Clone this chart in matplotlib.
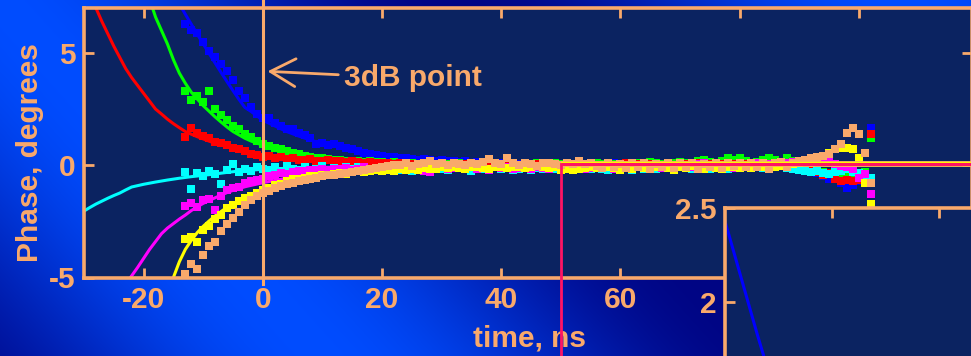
import numpy as np
import matplotlib
matplotlib.use("Agg")
import matplotlib.pyplot as plt

plt.rcParams['font.family'] = ['Liberation Sans', 'DejaVu Sans']
plt.rcParams['font.weight'] = 'bold'
plt.rcParams['axes.unicode_minus'] = False

ORANGE = '#f9a96b'
NAVY = '#0b2361'
PINK = '#ff1464'

# measured phase points, one every ns from -13 to 102 ns
t_pts = np.arange(-13, 103)

blue_pts = [6.3, 6.0, 5.9, 5.5, 5.1, 4.8, 4.5, 4.2, 3.8, 3.3, 3.0, 2.6, 2.3, 2.1,
            2.1, 1.9, 1.75, 1.6, 1.6, 1.45, 1.35, 1.2, 0.95, 1.0, 0.9, 0.95, 0.85, 0.78, 0.7, 0.65, 0.55, 0.5, 0.45, 0.42,
            0.38, 0.35, 0.3, 0.32, 0.28, 0.25, 0.27, 0.22, 0.2, 0.24, 0.18, 0.2, 0.15, 0.17, 0.12, 0.14, 0.1, 0.12, 0.08, 0.1,
            0.06, 0.09, 0.05, 0.08, 0.04, 0.07, 0.05, 0.1, 0.03, 0.06, 0.08, 0.04, 0.07, 0.05, 0.09, 0.03, 0.06, 0.05, 0.08, 0.04,
            0.07, 0.05, 0.1, 0.06, 0.04, 0.08, 0.05, 0.07, 0.03, 0.06, 0.09, 0.05, 0.04, 0.08, 0.06, 0.03, 0.07, 0.05, 0.02, 0.04,
            0.05, 0.03, 0.06, 0.02, 0.04, 0.0, 0.03, -0.02, 0.01, -0.05, -0.1,
            -0.2, -0.35, -0.5, -0.63, -0.55, -0.8, -1.0, -0.9, -0.7, -0.4, 1.65]

red_pts = [1.25, 1.65, 1.45, 1.3, 1.2, 1.05, 0.98, 0.9, 0.78, 0.72, 0.62, 0.52, 0.47, 0.35,
           0.4, 0.32, 0.35, 0.28, 0.3, 0.25, 0.22, 0.26, 0.2, 0.18, 0.22, 0.17, 0.2, 0.15, 0.18, 0.14, 0.12, 0.15, 0.1, 0.12,
           0.1, 0.06, 0.08, 0.03, 0.06, -0.02, 0.05, 0.02, -0.05, 0.03, 0.0, -0.08, 0.02, 0.04, -0.03, 0.01, 0.05, -0.1, 0.0, 0.03,
           -0.02, 0.04, 0.0, -0.12, 0.02, 0.05, -0.04, 0.01, 0.03, -0.06, 0.02, 0.0, 0.04, -0.03, 0.06, 0.01, -0.05, 0.03, 0.0, 0.05,
           0.08, 0.02, 0.06, -0.02, 0.04, 0.07, 0.0, 0.05, 0.03, -0.04, 0.06, 0.02, 0.08, 0.01, 0.04, -0.03, 0.05, 0.02, 0.06, 0.0,
           0.04, 0.02, -0.02, 0.03, 0.0, -0.05, 0.02, -0.08, -0.12, -0.1, -0.2,
           -0.25, -0.3, -0.45, -0.35, -0.6, -0.7, -0.65, -0.72, -0.68, -0.5, 1.38]

green_pts = [3.3, 2.9, 3.1, 2.8, 3.3, 2.5, 2.25, 2.0, 1.75, 1.6, 1.4, 1.25, 1.1, 0.93,
             0.85, 0.76, 0.7, 0.62, 0.55, 0.49, 0.42, 0.38, 0.33, 0.3, 0.27, 0.25, 0.22, 0.2, 0.18, 0.2, 0.15, 0.17, 0.13, 0.15,
             0.12, 0.14, 0.1, 0.08, 0.12, 0.05, 0.1, 0.07, 0.04, 0.09, 0.06, 0.03, 0.08, 0.05, 0.1, 0.02, 0.06, 0.04, 0.07, 0.03,
             0.05, 0.08, 0.02, 0.06, 0.04, 0.09, 0.03, 0.06, 0.1, 0.05, 0.07, 0.04, 0.08, 0.03, 0.06, 0.09, 0.05, 0.12, 0.07, 0.04,
             0.08, 0.12, 0.1, 0.05, 0.14, 0.1, 0.06, 0.12, 0.08, 0.15, 0.1, 0.12, 0.18, 0.25, 0.15, 0.12, 0.2, 0.32, 0.22, 0.3,
             0.18, 0.12, 0.15, 0.22, 0.32, 0.25, 0.15, 0.3, 0.2, 0.05, -0.1,
             -0.2, -0.25, -0.3, -0.38, -0.35, -0.42, -0.4, -0.55, -0.45, -0.3, 1.2]

cyan_pts = [-0.3, -1.05, -0.35, -0.5, -0.25, -0.4, -0.85, -0.2, 0.05, -0.3, -0.15, -0.25, -0.1, -0.15,
            -0.2, -0.1, -0.25, -0.05, -0.15, -0.2, -0.1, -0.3, -0.15, -0.05, -0.2, -0.12, -0.25, -0.08, -0.18, -0.1, -0.22, -0.15, -0.12, -0.2,
            -0.18, -0.12, -0.2, -0.15, -0.25, -0.1, -0.18, -0.22, -0.12, -0.16, -0.2, -0.14, -0.1, -0.18, -0.24, -0.12, -0.15, -0.2, -0.1, -0.16,
            -0.13, -0.2, -0.15, -0.1, -0.22, -0.14, -0.18, -0.1, -0.15, -0.2, -0.12, -0.17, -0.1, -0.14, -0.19, -0.12, -0.15, -0.22, -0.1, -0.16,
            -0.14, -0.2, -0.1, -0.15, -0.12, -0.18, -0.08, -0.14, -0.2, -0.1, -0.12, -0.16, -0.1, -0.14, -0.18, -0.08, -0.12, -0.15, -0.1, -0.13,
            -0.1, -0.14, -0.08, -0.12, -0.06, -0.1, -0.05, -0.12, -0.15, -0.2, -0.25,
            -0.3, -0.28, -0.35, -0.4, -0.3, -0.25, -0.18, -0.3, -0.35, -0.45, -0.57]

magenta_pts = [-1.8, -1.7, -1.85, -1.55, -1.5, -2.0, -1.35, -1.1, -1.0, -0.95, -0.8, -0.72, -0.65, -0.6,
               -0.5, -0.42, -0.35, -0.38, -0.3, -0.25, -0.28, -0.22, -0.2, -0.18, -0.22, -0.15, -0.18, -0.12, -0.2, -0.15, -0.1, -0.18, -0.13, -0.15,
               -0.15, -0.2, -0.12, -0.18, -0.1, -0.15, -0.25, -0.3, -0.14, -0.1, -0.16, -0.12, -0.08, -0.15, -0.1, -0.18, -0.12, -0.2, -0.1, -0.14,
               -0.1, -0.16, -0.12, -0.08, -0.15, -0.1, -0.13, -0.18, -0.1, -0.12, -0.08, -0.14, -0.1, -0.16, -0.12, -0.08, -0.12, -0.1, -0.15, -0.1,
               -0.12, -0.08, -0.1, -0.14, -0.06, -0.1, -0.12, -0.08, -0.1, -0.05, -0.12, -0.08, 0.05, 0.1, 0.02, -0.08, -0.1, -0.05, -0.12, -0.08,
               -0.06, -0.1, 0.08, 0.12, 0.05, -0.05, 0.02, 0.1, 0.15, 0.2, 0.15,
               0.3, 0.35, 0.25, 0.15, 0.05, -0.05, -0.1, -0.18, -0.58, -0.4, -1.27]

yellow_pts = [-3.3, -3.2, -3.4, -2.9, -2.7, -2.4, -2.2, -1.9, -1.75, -1.6, -1.45, -1.35, -1.25, -1.1,
              -1.0, -0.9, -0.85, -0.7, -0.6, -0.62, -0.55, -0.5, -0.48, -0.42, -0.45, -0.38, -0.35, -0.4, -0.3, -0.28, -0.32, -0.25, -0.22, -0.25,
              -0.2, -0.28, -0.18, -0.22, -0.15, -0.2, -0.12, -0.18, -0.15, -0.1, -0.14, -0.08, -0.12, -0.16, -0.1, -0.06, -0.12, -0.15, -0.08, -0.1,
              -0.12, -0.07, -0.1, -0.14, -0.08, -0.05, -0.1, -0.12, -0.06, -0.2, -0.15, -0.22, -0.18, -0.12, -0.08, -0.14, -0.1, -0.06, -0.12, -0.2,
              -0.1, -0.15, -0.08, -0.12, -0.18, -0.06, -0.1, -0.14, -0.2, -0.08, -0.12, -0.05, -0.1, -0.15, -0.08, -0.12, -0.18, -0.06, -0.1, -0.14,
              -0.08, -0.12, -0.05, -0.1, -0.15, -0.08, -0.04, -0.1, 0.05, 0.12, 0.2,
              0.25, 0.3, 0.4, 0.55, 0.72, 0.78, 0.76, 0.7, 0.3, -0.8, -1.73]

orange_pts = [-4.85, -4.4, -4.6, -4.0, -3.6, -3.4, -2.95, -2.6, -2.35, -2.1, -1.75, -1.55, -1.37, -1.25,
              -1.15, -1.0, -0.93, -0.85, -0.78, -0.7, -0.64, -0.6, -0.55, -0.5, -0.45, -0.42, -0.4, -0.35, -0.3, -0.28, -0.22, -0.18, -0.12, -0.1,
              -0.05, 0.03, 0.0, 0.08, -0.02, 0.05, 0.1, 0.18, 0.04, 0.08, 0.02, 0.1, 0.05, 0.0, 0.12, 0.06, 0.15, 0.27, 0.1, 0.05,
              0.33, 0.08, 0.02, 0.1, 0.05, -0.02, 0.08, 0.12, 0.04, 0.0, 0.1, 0.06, 0.2, 0.05, 0.08, -0.05, -0.12, 0.1, -0.1, 0.05,
              -0.12, 0.08, -0.08, 0.1, -0.15, 0.05, -0.1, 0.08, -0.12, 0.1, -0.08, 0.12, -0.15, 0.05, -0.1, 0.1, -0.12, 0.08, -0.05, 0.1,
              -0.1, 0.12, -0.08, 0.1, -0.15, 0.08, 0.15, -0.1, 0.12, 0.2, 0.22,
              0.3, 0.35, 0.4, 0.48, 0.7, 0.93, 1.42, 1.65, 1.37, 0.53, -0.8]

# fitted curves
red_fit_t = [-30, -29, -28, -27, -26, -25, -24, -23, -22, -21, -20, -19, -18, -17, -16, -15, -14, -13, -12, -11,
             -10, -9, -8, -7, -6, -5, -4, -3, -2, -1, 0, 2, 4, 6, 8, 10, 14, 20, 30, 45, 60]
red_fit = [8.3, 7.6, 7.0, 6.4, 5.85, 5.3, 4.8, 4.3, 3.9, 3.55, 3.2, 2.85, 2.5, 2.28, 2.05, 1.85, 1.67, 1.5, 1.38, 1.27,
           1.17, 1.07, 0.98, 0.9, 0.82, 0.75, 0.66, 0.58, 0.51, 0.45, 0.4, 0.33, 0.28, 0.24, 0.2, 0.18, 0.14, 0.1, 0.06, 0.04, 0.03]

green_fit_t = [-20, -19, -18.5, -18, -17, -16, -15, -14, -13, -12, -11, -10, -9, -8, -7, -6, -5, -4, -3, -2, -1, 0,
               2, 4, 6, 8, 10, 14, 20, 30, 45, 60]
green_fit = [8.2, 7.4, 7.0, 6.6, 6.0, 5.4, 4.7, 4.1, 3.65, 3.25, 2.95, 2.65, 2.4, 2.15, 1.92, 1.7, 1.5, 1.35, 1.2, 1.08, 0.98, 0.9,
             0.72, 0.58, 0.46, 0.37, 0.3, 0.2, 0.13, 0.07, 0.04, 0.02]

blue_fit_t = [-14.5, -13.6, -13, -12, -11, -10, -9, -8, -7, -6, -5, -4, -3, -2, -1, 0, 2, 4, 6, 8, 10, 13, 16, 20, 25, 30, 40, 60]
blue_fit = [7.4, 7.0, 6.72, 6.28, 5.84, 5.4, 4.97, 4.55, 4.13, 3.72, 3.32, 2.93, 2.57, 2.4, 2.2, 2.0, 1.75, 1.5, 1.3, 1.12,
            0.97, 0.8, 0.64, 0.45, 0.3, 0.2, 0.1, 0.04]

cyan_fit_t = [-30, -29, -28, -27, -26, -25, -24, -23, -22, -20, -18, -16, -14, -12, -10, -8, -6, -4, -2, 0, 5, 10, 20, 40, 60]
cyan_fit = [-2.04, -1.88, -1.73, -1.6, -1.47, -1.35, -1.24, -1.1, -0.97, -0.85, -0.75, -0.66, -0.58, -0.51, -0.45, -0.39,
            -0.32, -0.26, -0.22, -0.18, -0.13, -0.1, -0.06, -0.04, -0.03]

magenta_fit_t = [-23.5, -22.2, -21, -20, -19, -18, -17, -16, -15, -14, -13, -12, -11, -10, -9, -8, -7, -6, -5, -4, -3, -2, -1, 0,
                 2, 4, 6, 8, 10, 14, 20, 30, 45, 60]
magenta_fit = [-5.6, -5.0, -4.55, -4.15, -3.75, -3.4, -3.05, -2.8, -2.6, -2.4, -2.22, -2.02, -1.85, -1.7, -1.57, -1.45, -1.33,
               -1.22, -1.12, -1.04, -0.96, -0.9, -0.84, -0.78, -0.68, -0.58, -0.5, -0.43, -0.37, -0.28, -0.19, -0.11, -0.06, -0.04]

yellow_fit_t = [-16, -15, -14, -13, -12, -11, -10, -9, -8, -7, -6, -5, -4, -3, -2, -1, 0, 2, 4, 6, 8, 10, 14, 20, 30, 45, 60]
yellow_fit = [-5.65, -5.0, -4.3, -3.75, -3.35, -3.0, -2.72, -2.48, -2.26, -2.06, -1.88, -1.72, -1.58, -1.45, -1.34, -1.24,
              -1.14, -0.97, -0.82, -0.68, -0.57, -0.48, -0.35, -0.22, -0.12, -0.07, -0.05]

# inset trace
inset_t = [50, 51, 52, 53, 54, 55, 56]
inset_phase = [2.43, 2.23, 2.03, 1.83, 1.64, 1.47, 1.32]

W, H = 971, 356
fig = plt.figure(figsize=(W / 100, H / 100), dpi=100)

# slide background gradient
bg = fig.add_axes([0, 0, 1, 1], zorder=0)
X, Y = np.meshgrid(np.arange(W), np.arange(H))
b = 0.5 + 0.5 * np.cos(2 * np.pi * (X - 0.9 * Y) / 900)
dark = np.array([0.0, 0.02, 0.52])
bright = np.array([0.0, 0.30, 1.0])
img = dark[None, None, :] + b[:, :, None] * (bright - dark)[None, None, :]
bg.imshow(img, aspect='auto', extent=[0, 1, 0, 1], origin='upper')
bg.axis('off')

ax = fig.add_axes([84 / W, 1 - 277.5 / H, 888 / W, 269.5 / H], zorder=1)
ax.set_facecolor(NAVY)

fits = [(blue_fit_t, blue_fit, 'blue'), (green_fit_t, green_fit, '#00ff00'), (red_fit_t, red_fit, 'red'),
        (cyan_fit_t, cyan_fit, 'cyan'), (magenta_fit_t, magenta_fit, 'magenta'), (yellow_fit_t, yellow_fit, 'yellow')]
for ft, fv, c in fits:
    ax.plot(ft, fv, color=c, lw=2.2, zorder=2)

series = [(blue_pts, 'blue'), (green_pts, '#00ff00'), (red_pts, 'red'), (cyan_pts, 'cyan'),
          (magenta_pts, 'magenta'), (yellow_pts, 'yellow'), (orange_pts, ORANGE)]
for vals, c in series:
    ax.plot(t_pts, vals, ls='none', marker='s', ms=5.5, mew=0, color=c, zorder=3)

# 3dB point marker
ax.plot([0, 0], [7.4, -5.28], color=ORANGE, lw=2.2, zorder=4, clip_on=False)
ax.annotate('3dB point', xy=(0.8, 4.18), xytext=(13.6, 3.87), color=ORANGE, fontsize=21.5,
            fontweight='bold', va='center', ha='left', zorder=5,
            arrowprops=dict(arrowstyle='->,head_length=0.9,head_width=0.5', color=ORANGE, lw=2,
                            shrinkA=2, shrinkB=0, mutation_scale=20))

# zoom bracket
ax.plot([50, 125], [0.04, 0.04], color=ORANGE, lw=4.2, zorder=6, clip_on=False, solid_capstyle='butt')
ax.plot([50, 125], [0.04, 0.04], color='yellow', lw=3.2, zorder=6, clip_on=False, solid_capstyle='butt')
ax.plot([50, 125], [0.04, 0.04], color=PINK, lw=2.2, zorder=6, clip_on=False, solid_capstyle='butt')
ax.plot([50, 50], [0.04, -9.5], color=PINK, lw=2, zorder=6, clip_on=False)

ax.set_xlim(-30, 119)
ax.set_ylim(-5, 7)
ax.set_xticks([-20, 0, 20, 40, 60, 80, 100])
ax.set_yticks([-5, 0, 5])
ax.tick_params(direction='in', length=7, width=2, colors=ORANGE, labelsize=21.5,
               top=True, right=True, pad=6)
for s in ax.spines.values():
    s.set_color(ORANGE)
    s.set_linewidth(2.6)

ax.set_xlabel('time, ns', color=ORANGE, fontsize=21.5, fontweight='bold')
ax.xaxis.set_label_coords(0.502, -0.175)
ax.set_ylabel('Phase, degrees', color=ORANGE, fontsize=21.5, fontweight='bold')
ax.yaxis.label.set_va('center')
ax.yaxis.set_label_coords(-0.061, 0.465)

# inset
axi = fig.add_axes([725 / W, 1 - 450 / H, 375 / W, 242 / H], zorder=3)
axi.set_facecolor(NAVY)
axi.plot(inset_t, inset_phase, color='blue', lw=2.2)
axi.set_xlim(50, 85)
axi.set_ylim(1.213, 2.5)
axi.set_xticks([60, 70, 80])
axi.set_yticks([1.5, 2, 2.5])
axi.set_yticklabels(['', '2', '2.5'])
axi.tick_params(direction='in', length=7, width=2, colors=ORANGE, labelsize=21.5,
                top=True, right=True, labelbottom=False, pad=6)
for s in axi.spines.values():
    s.set_color(ORANGE)
    s.set_linewidth(2.6)

fig.savefig('out.png', dpi=100, facecolor=fig.get_facecolor())
